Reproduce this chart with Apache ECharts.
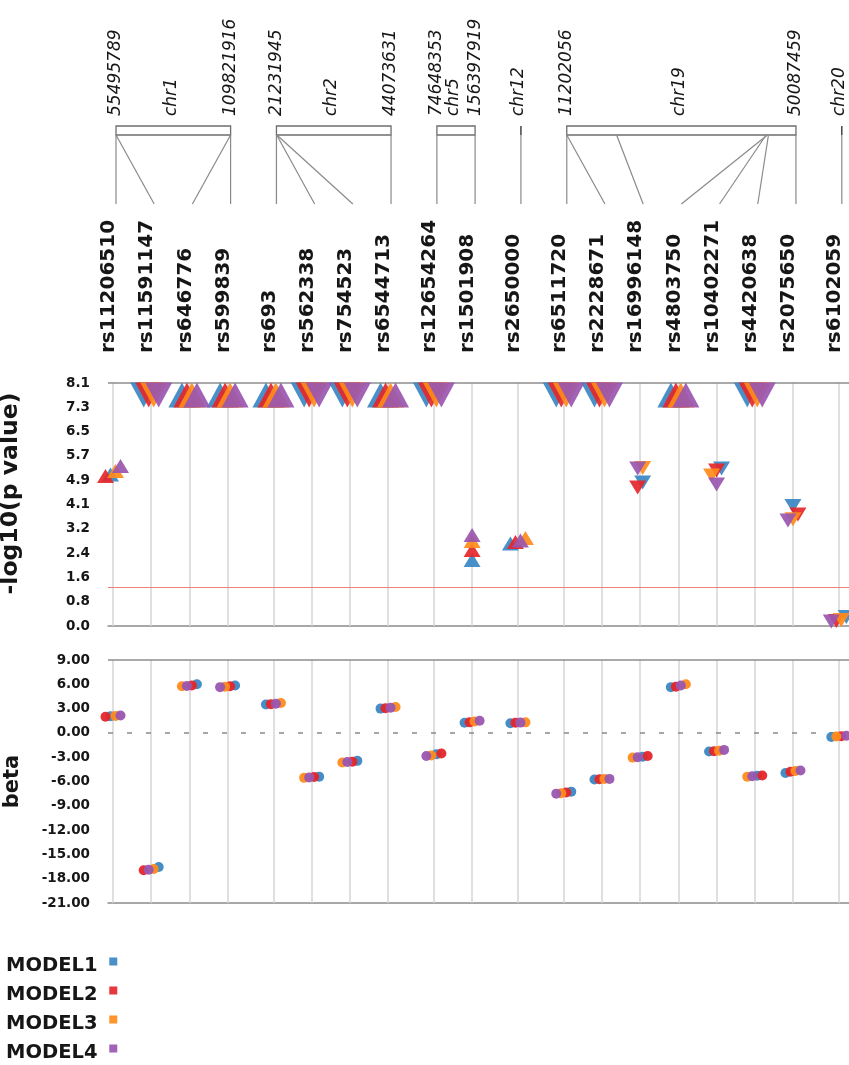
<!DOCTYPE html>
<html>
<head>
<meta charset="utf-8">
<script src="https://cdn.jsdelivr.net/npm/echarts@6/dist/echarts.min.js"></script>
<style>
  html, body { margin: 0; padding: 0; background: #ffffff; }
  #chart { width: 849px; height: 1065px; }
</style>
</head>
<body>
<div id="chart"></div>
<script>
// ---- SNPs, in plotting order ----
const snps = ['rs11206510', 'rs11591147', 'rs646776', 'rs599839', 'rs693', 'rs562338', 'rs754523',
  'rs6544713', 'rs12654264', 'rs1501908', 'rs2650000', 'rs6511720', 'rs2228671', 'rs16996148',
  'rs4803750', 'rs10402271', 'rs4420638', 'rs2075650', 'rs6102059'];
const snpChr = ['chr1', 'chr1', 'chr1', 'chr1', 'chr2', 'chr2', 'chr2', 'chr2', 'chr5', 'chr5',
  'chr12', 'chr19', 'chr19', 'chr19', 'chr19', 'chr19', 'chr19', 'chr19', 'chr20'];
const snpBp = [55496039, 55505647, 109818530, 109822166, 21232195, 21288321, 21311691, 44073881,
  74648603, 156398169, 121388962, 11202306, 11210912, 19658472, 45247627, 45021736, 45422946,
  50087709, 39228784];

// ---- chromosomes and the span labels printed above each one ----
const chromosomes = ['chr1', 'chr2', 'chr5', 'chr12', 'chr19', 'chr20'];
const chrStartLabel = ['55495789', '21231945', '74648353', null, '11202056', null];
const chrEndLabel = ['109821916', '44073631', '156397919', null, '50087459', null];

// ---- models ----
const models = ['MODEL1', 'MODEL2', 'MODEL3', 'MODEL4'];

// -log10(p value); 7.7 marks results beyond the top of the scale
const logP1 = [5.05, 7.7, 7.7, 7.7, 7.7, 7.7, 7.7, 7.7, 7.7, 2.20, 2.75, 7.7, 7.7, 4.78, 7.7, 5.25, 7.7, 4.00, 0.30];
const logP2 = [5.00, 7.7, 7.7, 7.7, 7.7, 7.7, 7.7, 7.7, 7.7, 2.53, 2.80, 7.7, 7.7, 4.62, 7.7, 5.18, 7.7, 3.72, 0.17];
const logP3 = [5.17, 7.7, 7.7, 7.7, 7.7, 7.7, 7.7, 7.7, 7.7, 2.83, 2.93, 7.7, 7.7, 5.27, 7.7, 5.02, 7.7, 3.56, 0.20];
const logP4 = [5.33, 7.7, 7.7, 7.7, 7.7, 7.7, 7.7, 7.7, 7.7, 3.03, 2.85, 7.7, 7.7, 5.25, 7.7, 4.72, 7.7, 3.52, 0.15];

// effect sizes
const beta1 = [2.05, -16.55, 6.00, 5.85, 3.50, -5.40, -3.45, 3.00, -2.65, 1.25, 1.20, -7.25, -5.75, -2.95, 5.65, -2.30, -5.30, -4.95, -0.50];
const beta2 = [2.00, -16.95, 5.85, 5.75, 3.55, -5.45, -3.55, 3.05, -2.55, 1.30, 1.25, -7.35, -5.72, -2.85, 5.70, -2.25, -5.25, -4.80, -0.40];
const beta3 = [2.10, -16.80, 5.75, 5.70, 3.70, -5.55, -3.65, 3.20, -2.80, 1.40, 1.30, -7.45, -5.70, -3.05, 6.00, -2.20, -5.40, -4.70, -0.45];
const beta4 = [2.15, -16.90, 5.80, 5.65, 3.60, -5.50, -3.60, 3.10, -2.85, 1.50, 1.27, -7.50, -5.68, -3.00, 5.85, -2.10, -5.35, -4.65, -0.35];

// ---- axis ticks ----
const pTickLabels = ['0.0', '0.8', '1.6', '2.4', '3.2', '4.1', '4.9', '5.7', '6.5', '7.3', '8.1'];
const P_INTERVAL = 0.81;
const P_THRESHOLD = 1.3;           // -log10(0.05)
const P_CAP = 7.7;

// ---- styling / layout ----
const COLORS = ['#3B87C3', '#E4262A', '#FF8B1A', '#9A56B0'];
const FONT = 'DejaVu Sans';
const TEXT = '#161616';
const CHR_GAP = 0.2;               // extra spacing between chromosomes (in columns)
const X_MIN = -0.131, X_MAX = 19.267;
const STEP = 5;                    // horizontal dodge between overlapping models (px)
const P_TOL = 0.18, B_TOL = 0.6;   // values closer than this are dodged
const BAR_TOP = 126, BAR_H = 9, LINK_END = 204, CHR_LABEL_BASE = 116, SNP_LABEL_BASE = 353;
const LINK_DX = 3, SNP_LABEL_DX = -4;

const chrIndexOf = snpChr.map(c => chromosomes.indexOf(c));
const colPos = snps.map((_, i) => +(i + CHR_GAP * chrIndexOf[i]).toFixed(2));
const logP = [logP1, logP2, logP3, logP4];
const betas = [beta1, beta2, beta3, beta4];

// Spread models of one SNP sideways when their values sit close together.
function dodge(vals, tol, step) {
  const order = vals.map((_, m) => m).sort((a, b) => (vals[a] - vals[b]) || (a - b));
  const offs = vals.map(() => 0);
  let cluster = [order[0]];
  const flush = () => cluster.forEach((m, k) => { offs[m] = (k - (cluster.length - 1) / 2) * step; });
  for (let k = 1; k < order.length; k++) {
    if (vals[order[k]] - vals[order[k - 1]] < tol) cluster.push(order[k]);
    else { flush(); cluster = [order[k]]; }
  }
  flush();
  return offs;
}
const pOffsets = snps.map((_, i) => dodge(logP.map(a => a[i]), P_TOL, STEP));
const bOffsets = snps.map((_, i) => dodge(betas.map(a => a[i]), B_TOL, STEP));

// ---- chromosome schematic: span bar, links to SNP columns, labels ----
function renderChromosome(params, api) {
  const k = params.dataIndex;
  const members = snps.map((_, i) => i).filter(i => chrIndexOf[i] === k);
  const px = c => api.coord([c, 0])[0];
  const x0 = px(colPos[members[0]]) + LINK_DX;
  const x1 = px(colPos[members[members.length - 1]]) + LINK_DX;
  const g0 = chrStartLabel[k] ? Number(chrStartLabel[k]) : null;
  const g1 = chrEndLabel[k] ? Number(chrEndLabel[k]) : null;
  const bpX = bp => (g0 === null || g1 === g0) ? x0 : x0 + (bp - g0) / (g1 - g0) * (x1 - x0);
  const children = [];
  if (x1 > x0) {
    children.push({ type: 'rect', shape: { x: x0, y: BAR_TOP, width: x1 - x0, height: BAR_H },
      style: { fill: 'none', stroke: '#6e6e6e', lineWidth: 1.3 } });
  } else {
    children.push({ type: 'line', shape: { x1: x0, y1: BAR_TOP, x2: x0, y2: BAR_TOP + BAR_H },
      style: { stroke: '#444', lineWidth: 1.5 } });
  }
  members.forEach(i => {
    children.push({ type: 'line',
      shape: { x1: bpX(snpBp[i]), y1: BAR_TOP + BAR_H, x2: px(colPos[i]) + LINK_DX, y2: LINK_END },
      style: { stroke: '#8a8a8a', lineWidth: 1.2 } });
  });
  const label = (text, x) => ({ type: 'text', x: x, y: CHR_LABEL_BASE, rotation: Math.PI / 2,
    style: { text: text, fill: TEXT, fontFamily: FONT, fontStyle: 'italic', fontSize: 17,
      align: 'left', verticalAlign: 'middle' } });
  if (chrStartLabel[k]) children.push(label(chrStartLabel[k], x0));
  children.push(label(chromosomes[k], (px(colPos[members[0]]) + px(colPos[members[members.length - 1]])) / 2 + 1));
  if (chrEndLabel[k]) children.push(label(chrEndLabel[k], x1));
  return { type: 'group', children: children };
}

function renderSnpLabel(params, api) {
  const i = params.dataIndex;
  const x = api.coord([api.value(0), 0])[0] + SNP_LABEL_DX;
  return { type: 'text', x: x, y: SNP_LABEL_BASE, rotation: Math.PI / 2,
    style: { text: snps[i], fill: TEXT, fontFamily: FONT, fontWeight: 'bold', fontSize: 20,
      align: 'left', verticalAlign: 'middle' } };
}

// ---- series ----
const series = [
  { type: 'custom', xAxisIndex: 0, yAxisIndex: 0, renderItem: renderChromosome,
    data: chromosomes.map((_, k) => [k]), silent: true },
  { type: 'custom', xAxisIndex: 0, yAxisIndex: 0, renderItem: renderSnpLabel,
    data: colPos.map(c => [c]), silent: true }
];

const colLines = colPos.map(c => ({ xAxis: c, lineStyle: { color: '#d4d4d4', width: 1.5, type: 'solid' } }));

models.forEach((name, m) => {
  const s = {
    name: name, type: 'scatter', xAxisIndex: 1, yAxisIndex: 1, z: 3,
    symbol: 'triangle', itemStyle: { color: COLORS[m], opacity: 0.92 },
    emphasis: { disabled: true },
    data: snps.map((_, i) => {
      const capped = logP[m][i] >= P_CAP;
      return {
        value: [colPos[i], logP[m][i]],
        symbolSize: capped ? [27, 25] : [17, 14],
        symbolRotate: betas[m][i] < 0 ? 180 : 0,
        symbolOffset: [pOffsets[i][m], 0]
      };
    })
  };
  if (m === 0) {
    s.markLine = { silent: true, symbol: 'none', z: 1, label: { show: false }, animation: false,
      data: colLines.concat([
        { yAxis: 8.1, lineStyle: { color: '#8c8c8c', width: 1.5, type: 'solid' } },
        { yAxis: P_THRESHOLD, lineStyle: { color: '#f07f7f', width: 1.2, type: 'solid' } }
      ]) };
  }
  series.push(s);
});

models.forEach((name, m) => {
  const s = {
    name: name, type: 'scatter', xAxisIndex: 2, yAxisIndex: 2, z: 3,
    symbol: 'circle', symbolSize: 10, itemStyle: { color: COLORS[m], opacity: 0.95 },
    emphasis: { disabled: true },
    data: snps.map((_, i) => ({ value: [colPos[i], betas[m][i]], symbolOffset: [bOffsets[i][m], 0] }))
  };
  if (m === 0) {
    s.markLine = { silent: true, symbol: 'none', z: 1, label: { show: false }, animation: false,
      data: colLines.concat([
        { yAxis: 9, lineStyle: { color: '#8c8c8c', width: 1.5, type: 'solid' } },
        { yAxis: 0, lineStyle: { color: '#8a8a8a', width: 1.5, type: [5, 14] } }
      ]) };
  }
  series.push(s);
});

const yLabel = { color: TEXT, fontFamily: FONT, fontWeight: 'bold', fontSize: 13.5, margin: 18,
  padding: [0, 0, 10, 0] };
const xBase = { type: 'value', min: X_MIN, max: X_MAX, axisTick: { show: false },
  axisLabel: { show: false }, splitLine: { show: false },
  axisLine: { show: true, onZero: false, lineStyle: { color: '#8c8c8c', width: 1.5 } } };

const option = {
  animation: false,
  backgroundColor: '#ffffff',
  grid: [
    { left: 108, right: 0, top: 0, height: 360, outerBoundsMode: 'none' },
    { left: 108, right: 0, top: 383, height: 243, outerBoundsMode: 'none' },
    { left: 108, right: 0, top: 660, height: 243, outerBoundsMode: 'none' }
  ],
  xAxis: [
    { type: 'value', gridIndex: 0, min: X_MIN, max: X_MAX, show: false },
    Object.assign({ gridIndex: 1 }, xBase),
    Object.assign({ gridIndex: 2 }, xBase)
  ],
  yAxis: [
    { type: 'value', gridIndex: 0, min: 0, max: 1, show: false },
    { type: 'value', gridIndex: 1, min: 0, max: 8.1, interval: P_INTERVAL,
      axisLine: { show: false }, axisTick: { show: false }, splitLine: { show: false },
      axisLabel: Object.assign({ formatter: v => pTickLabels[Math.round(v / P_INTERVAL)] }, yLabel),
      name: '-log10(p value)', nameLocation: 'middle', nameGap: 85, nameRotate: 90,
      nameTextStyle: { color: TEXT, fontFamily: FONT, fontWeight: 'bold', fontSize: 23.5, padding: [0, 0, 0, 22] } },
    { type: 'value', gridIndex: 2, min: -21, max: 9, interval: 3,
      axisLine: { show: false }, axisTick: { show: false }, splitLine: { show: false },
      axisLabel: Object.assign({ formatter: v => v.toFixed(2) }, yLabel),
      name: 'beta', nameLocation: 'middle', nameGap: 85, nameRotate: 90,
      nameTextStyle: { color: TEXT, fontFamily: FONT, fontWeight: 'bold', fontSize: 21 } }
  ],
  legend: {
    data: models, orient: 'vertical', align: 'right', left: 6, top: 956, padding: 0, itemGap: 9,
    // square sits at the top of a taller icon box so it lines up with the cap height
    icon: 'path://M0,0L8,0L8,8L0,8Z M0,17L8,17', itemWidth: 8, itemHeight: 17, selectedMode: false,
    formatter: name => name + ' ',
    textStyle: { color: TEXT, fontFamily: FONT, fontWeight: 'bold', fontSize: 19.5, lineHeight: 20 }
  },
  series: series
};

const chart = echarts.init(document.getElementById('chart'), null, { renderer: 'canvas' });
chart.setOption(option);
</script>
</body>
</html>
